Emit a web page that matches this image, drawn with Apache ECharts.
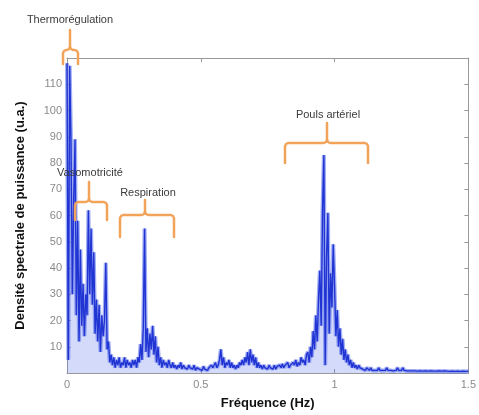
<!DOCTYPE html>
<html>
<head>
<meta charset="utf-8">
<script src="https://cdn.jsdelivr.net/npm/echarts@6/dist/echarts.min.js"></script>
<style>
html,body{margin:0;padding:0;background:#fff;}
#chart{width:479px;height:415px;}
</style>
</head>
<body>
<div id="chart"></div>
<script>
// Frequency grid (Hz): samples every 0.005 Hz from 0 to 1.5
var freqStep = 0.005;
// Power spectral density (u.a.), one value per grid point
var psd = [
  118, 5, 117, 88, 30, 66, 89, 22, 58, 12,
  47, 18, 34, 14, 30, 22, 62, 30, 55, 26,
  46, 15, 28, 12, 26, 8, 22, 14, 20, 42,
  9, 12, 4, 7, 3, 6, 2, 5, 3, 6,
  2, 4, 3, 6, 2, 5, 3, 4, 2, 5,
  3, 5, 2, 6, 4, 11, 5, 17, 55, 8,
  17, 6, 15, 9, 18, 7, 14, 4, 10, 3,
  6, 2, 5, 3, 4, 2, 5, 3, 2, 4,
  2, 3, 1.5, 3, 2, 4, 1.5, 3, 2, 2.5,
  1.5, 3, 2, 2.5, 1.5, 3, 1, 2, 2.5, 1.5,
  2, 1, 2.5, 1.5, 2, 1, 2, 1.5, 3, 2,
  2.5, 4, 2, 3, 5, 9, 3, 6, 2, 4,
  3, 5, 2, 4, 2, 3, 1.5, 3, 2, 4,
  3, 5, 3, 6, 4, 8, 3, 9, 4, 7,
  3, 6, 2, 4, 2, 3, 1.5, 3, 2, 2.5,
  1.5, 3, 2, 2.5, 1.5, 3, 1.5, 2.5, 2, 3,
  2, 3.5, 2, 3, 2.5, 4, 2, 3, 2.5, 4,
  3, 5, 2.5, 4, 3, 6, 4, 5, 3, 7,
  8, 4, 10, 6, 16, 9, 22, 12, 28, 39,
  18, 62, 83, 3, 44, 61, 15, 38, 25, 49,
  33, 14, 24, 10, 17, 7, 13, 5, 9, 4,
  7, 3, 5, 2, 4, 2, 3, 1.5, 3, 2,
  2.5, 1.5, 2, 1, 2, 1.5, 1, 2, 1, 1.5,
  1, 1.5, 1, 2, 1, 1.5, 1, 1.5, 1, 2,
  1, 1.5, 1, 1.5, 0.8, 1.5, 1, 2, 1, 1.5,
  1, 2, 1, 1.5, 0.8, 1.2, 0.8, 1.5, 0.8, 1.2,
  0.8, 1.2, 0.7, 1, 0.8, 1.2, 0.7, 1, 0.8, 1.1,
  0.7, 1, 0.8, 1.1, 0.7, 1, 0.7, 1, 0.8, 1,
  0.7, 1, 0.8, 1, 0.7, 1, 0.6, 0.9, 0.7, 1,
  0.6, 0.9, 0.7, 1, 0.6, 0.9, 0.7, 0.9, 0.6, 0.9, 0.7
];
// Axis ticks
var xTicks = [0, 0.5, 1, 1.5];
var yTicks = [10, 20, 30, 40, 50, 60, 70, 80, 90, 100, 110];
// Annotations
var annotations = ["Thermorégulation", "Vasomotricité", "Respiration", "Pouls artériel"];
var xTitle = "Fréquence (Hz)";
var yTitle = "Densité spectrale de puissance (u.a.)";

var seriesData = psd.map(function (v, i) { return [+(i * freqStep).toFixed(4), v]; });

var chart = echarts.init(document.getElementById('chart'), null, {renderer: 'canvas'});
var orange = '#f2a35a';
var tickColor = '#999';
var labColor = '#8a8a8a';

function brace(stemX, stemTop, barY, leftX, rightX, legBottom) {
  var r = 3;
  var style = {stroke: orange, lineWidth: 2.5, fill: null, lineJoin: 'round', lineCap: 'round'};
  return {type: 'group', z: 100, children: [
    {type: 'polyline', z: 100, shape: {points: [
      [leftX, legBottom], [leftX, barY + r], [leftX + 1, barY + 1], [leftX + r, barY],
      [stemX - r, barY], [stemX - 1, barY - 1], [stemX, barY - r], [stemX, stemTop]
    ]}, style: style},
    {type: 'polyline', z: 100, shape: {points: [
      [rightX, legBottom], [rightX, barY + r], [rightX - 1, barY + 1], [rightX - r, barY],
      [stemX + r, barY], [stemX + 1, barY - 1], [stemX, barY - r]
    ]}, style: style}
  ]};
}
function label(txt, x, y) {
  return {type: 'text', x: x, y: y, z: 101, style: {text: txt, fill: '#3a3a3a', font: '11px "Liberation Sans", Arial, sans-serif', textAlign: 'center', textVerticalAlign: 'middle'}};
}
function frameAxis(extra) {
  var base = {
    type: 'value',
    axisLine: {show: true, onZero: false, lineStyle: {color: tickColor}},
    axisTick: {show: true, inside: true, length: 4, lineStyle: {color: tickColor}},
    splitLine: {show: false}
  };
  for (var k in extra) base[k] = extra[k];
  return base;
}

chart.setOption({
  animation: false,
  backgroundColor: '#fff',
  grid: {left: 67, right: 6, top: 58, bottom: 36, containLabel: false},
  xAxis: [frameAxis({
    min: 0, max: 1.5, interval: 0.5, position: 'bottom',
    name: xTitle, nameLocation: 'middle', nameGap: 24,
    nameTextStyle: {fontWeight: 'bold', fontSize: 13, color: '#111', fontFamily: 'Liberation Sans'},
    axisLabel: {color: labColor, fontSize: 11, margin: 6, fontFamily: 'Liberation Sans',
      formatter: function (v) { return xTicks.indexOf(+v.toFixed(2)) >= 0 ? String(+v.toFixed(2)) : ''; }}
  }), frameAxis({
    min: 0, max: 1.5, interval: 0.5, position: 'top', axisLabel: {show: false}
  })],
  yAxis: [frameAxis({
    min: 0, max: 120, interval: 10, position: 'left',
    name: yTitle, nameLocation: 'middle', nameGap: 40, nameRotate: 90,
    nameTextStyle: {fontWeight: 'bold', fontSize: 13, color: '#111', fontFamily: 'Liberation Sans'},
    axisLabel: {color: labColor, fontSize: 11, margin: 5, fontFamily: 'Liberation Sans',
      formatter: function (v) { return yTicks.indexOf(v) >= 0 ? String(v) : ''; }}
  }), frameAxis({
    min: 0, max: 120, interval: 10, position: 'right', axisLabel: {show: false}
  })],
  series: [{
    type: 'line', xAxisIndex: 0, yAxisIndex: 0, data: seriesData,
    symbol: 'none', silent: true,
    lineStyle: {color: 'rgba(100,120,235,0.6)', width: 4},
    areaStyle: {color: 'rgba(100,122,238,0.4)'}, z: 2
  }, {
    type: 'line', xAxisIndex: 0, yAxisIndex: 0, data: seriesData,
    symbol: 'none', silent: true,
    lineStyle: {color: '#2034d4', width: 1.4}, z: 3
  }],
  graphic: [
    label(annotations[0], 70, 20),
    brace(70, 30, 50, 63, 78, 64),
    label(annotations[1], 90, 173),
    brace(89, 182, 202, 75, 107, 220),
    label(annotations[2], 148, 193),
    brace(145, 200, 215, 120, 174, 237),
    label(annotations[3], 328, 115),
    brace(327, 123, 143, 285, 368, 163)
  ]
});
</script>
</body>
</html>
